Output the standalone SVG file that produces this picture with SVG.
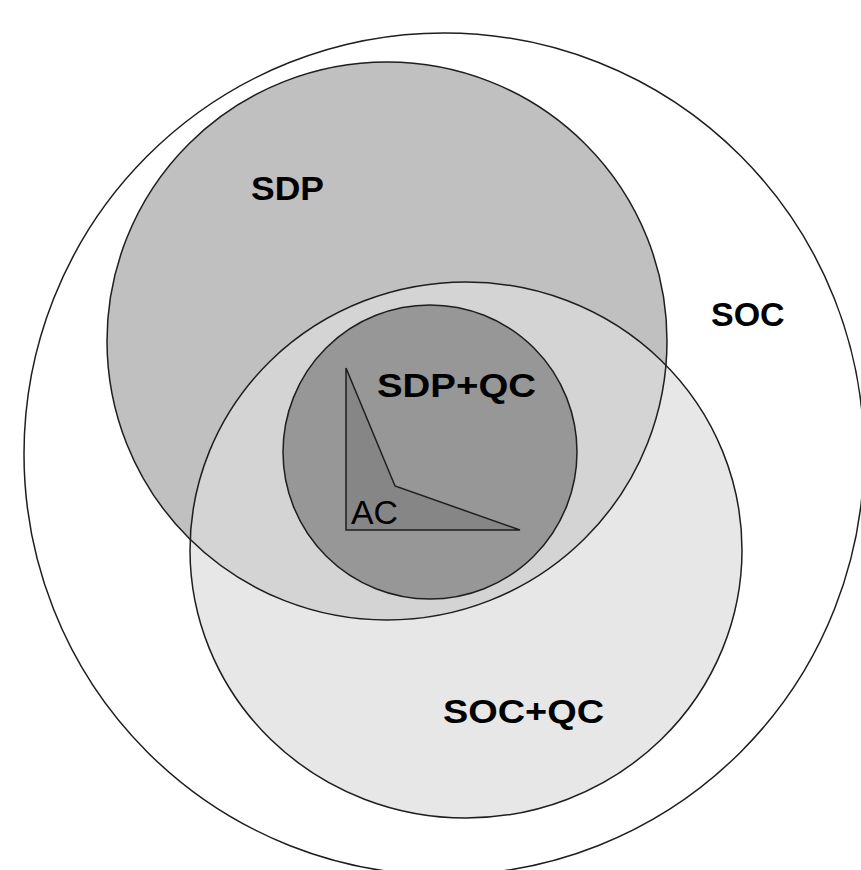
<svg xmlns="http://www.w3.org/2000/svg" width="861" height="870" viewBox="0 0 861 870">
<style>
.ln{stroke:#1e1e1e;stroke-width:1.5}
.lbl{font-family:"Liberation Sans",Arial,sans-serif;font-weight:bold;font-size:34px;fill:#000}
.lblr{font-family:"Liberation Sans",Arial,sans-serif;font-size:34px;fill:#000}
</style>
<defs>
<clipPath id="sdpClip"><ellipse cx="387" cy="341" rx="280" ry="279"/></clipPath>
</defs>
<rect width="861" height="870" fill="#ffffff"/>
<g id="soc">
<ellipse class="ln" cx="444" cy="454" rx="420" ry="421" fill="#ffffff"/>
<text class="lbl" x="711" y="326">SOC</text>
</g>
<g id="sdp">
<ellipse cx="387" cy="341" rx="280" ry="279" fill="#c0c0c0"/>
</g>
<g id="socqc">
<ellipse cx="466" cy="550" rx="276" ry="268" fill="#e7e7e7"/>
<ellipse cx="466" cy="550" rx="276" ry="268" fill="#d4d4d4" clip-path="url(#sdpClip)"/>
</g>
<g id="outlines" fill="none">
<ellipse class="ln" cx="387" cy="341" rx="280" ry="279"/>
<ellipse class="ln" cx="466" cy="550" rx="276" ry="268"/>
</g>
<text class="lbl" x="251" y="200" textLength="73" lengthAdjust="spacingAndGlyphs">SDP</text>
<text class="lbl" x="443" y="723" textLength="161" lengthAdjust="spacingAndGlyphs">SOC+QC</text>
<g id="sdpqc">
<circle class="ln" cx="430" cy="452" r="147" fill="#979797"/>
<text class="lbl" x="377" y="397" textLength="159" lengthAdjust="spacingAndGlyphs">SDP+QC</text>
</g>
<g id="ac">
<polygon class="ln" points="346,368 395,486 520,530 346,530" fill="#868686" stroke-linejoin="miter"/>
<text class="lblr" x="351" y="524" textLength="47" lengthAdjust="spacingAndGlyphs">AC</text>
</g>
</svg>
